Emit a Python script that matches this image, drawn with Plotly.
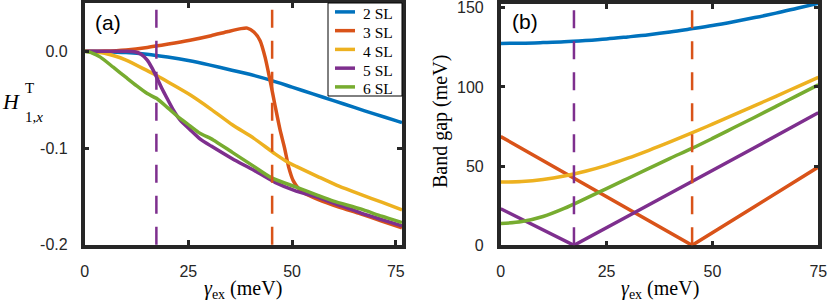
import plotly.graph_objects as go

# ---------------- data ----------------
series_names = ["2 SL", "3 SL", "4 SL", "5 SL", "6 SL"]
colors = ["#0072BD", "#D95319", "#EDB120", "#7E2F8E", "#77AC30"]

# panel (a): H^T_{1,x} vs gamma_ex
a_x_2 = [0, 5, 10, 15, 20, 25, 30, 35, 40, 45, 50, 55, 60, 65, 70, 75, 76.5]
a_y_2 = [0, -0.0003, -0.0012, -0.003, -0.0059, -0.0095, -0.014, -0.019, -0.024,
         -0.030, -0.037, -0.044, -0.051, -0.058, -0.065, -0.0716, -0.0738]
a_x_3 = [0, 4.8, 10.0, 15.1, 20.2, 25.4, 30.5, 34.6, 37.7, 39.2, 40.8, 42.3, 43.5,
         44.7, 45.9, 47.1, 48.2, 49.2, 50.3, 51.6, 53.1, 56.2, 61.3, 66.5, 71.6, 76.5]
a_y_3 = [0, 0.0003, 0.0015, 0.004, 0.0075, 0.0115, 0.0162, 0.0205, 0.0235, 0.024,
         0.020, 0.011, -0.006, -0.030, -0.056, -0.081, -0.100, -0.120, -0.134, -0.142,
         -0.147, -0.153, -0.161, -0.168, -0.1755, -0.1825]
a_x_4 = [0, 4.8, 10.0, 15.1, 17.4, 20.2, 25.4, 30.5, 35.6, 40.8, 45.9, 49.1, 51.0,
         56.2, 61.3, 66.5, 71.6, 76.5]
a_y_4 = [0, -0.002, -0.009, -0.020, -0.025, -0.032, -0.045, -0.060, -0.076, -0.090,
         -0.106, -0.1149, -0.119, -0.1295, -0.1395, -0.148, -0.156, -0.164]
a_x_5 = [0, 4.8, 10.0, 12.0, 13.6, 15.1, 16.1, 17.4, 18.7, 19.8, 21.3, 23.0, 25.4,
         27.8, 30.5, 35.6, 40.8, 45.9, 51.0, 56.2, 61.3, 66.5, 71.6, 76.5]
a_y_5 = [0, 0, 0, -0.0005, -0.003, -0.009, -0.016, -0.027, -0.039, -0.048, -0.060,
         -0.071, -0.081, -0.0905, -0.098, -0.111, -0.123, -0.1355, -0.1445, -0.151,
         -0.159, -0.167, -0.174, -0.1805]
a_x_6 = [0, 1.7, 3.8, 6.9, 10.0, 12.5, 15.1, 17.4, 20.2, 23.0, 25.4, 27.8, 31.0,
         35.6, 40.8, 45.1, 51.0, 56.2, 60.0, 66.5, 71.6, 76.5]
a_y_6 = [0, -0.0015, -0.006, -0.0164, -0.027, -0.0355, -0.0437, -0.0488, -0.059,
         -0.0694, -0.077, -0.0847, -0.0916, -0.1045, -0.119, -0.1309, -0.1405,
         -0.149, -0.1549, -0.163, -0.1705, -0.177]

# panel (b): band gap (meV) vs gamma_ex
b_x_2 = [0, 5, 10, 15, 20, 25, 30, 35, 40, 45, 50, 55, 60, 65, 70, 75]
b_y_2 = [127.5, 127.6, 128.0, 128.5, 129.3, 130.3, 131.6, 133.0, 134.7, 136.7,
         138.8, 141.2, 143.8, 146.6, 149.7, 152.8]
b_x_3 = [0, 20, 45.2, 60, 75]
b_y_3 = [68.7, 38.3, 0, 24.5, 49.4]
b_x_4 = [0, 5, 10, 15, 20, 25, 30, 35, 40, 45, 50, 55, 60, 65, 70, 75]
b_y_4 = [39.9, 40.3, 41.6, 43.8, 46.8, 50.5, 55.0, 60.0, 65.3, 70.8, 76.5, 82.3,
         88.2, 94.1, 100.1, 106.1]
b_x_5 = [0, 17.3, 30, 45.2, 60, 75]
b_y_5 = [23.1, 0, 18.3, 40.1, 61.8, 83.7]
b_x_6 = [0, 5, 10, 15, 20, 25, 30, 35, 40, 45, 50, 55, 60, 65, 70, 75]
b_y_6 = [13.7, 15.0, 18.2, 23.3, 29.5, 35.8, 42.2, 48.6, 54.9, 61.0, 67.5, 74.2,
         80.9, 87.7, 94.5, 101.3]

# critical exchange fields (dashed lines): 5 SL and 3 SL gap closings
crit_x = [17.3, 45.2]
crit_colors = ["#7E2F8E", "#D95319"]

a_xticks = [0, 25, 50, 75]
a_xticktext = ["0", "25", "50", "75"]
a_yticks = [-0.2, -0.1, 0.0]
a_yticktext = ["-0.2", "-0.1", "0.0"]
b_xticks = [0, 25, 50, 75]
b_xticktext = ["0", "25", "50", "75"]
b_yticks = [0, 50, 100, 150]
b_yticktext = ["0", "50", "100", "150"]

a_xrange = [0, 76.5]
a_yrange = [-0.2, 0.05]
b_xrange = [0, 75]
b_yrange = [0, 152.5]

# ---------------- figure ----------------
W, H = 830, 305
frame_col = "#262626"
sans = "Liberation Sans, Arial, sans-serif"
serif = "Liberation Serif, Times New Roman, serif"
LW = 3.5

fig = go.Figure()

a_x = [a_x_2, a_x_3, a_x_4, a_x_5, a_x_6]
a_y = [a_y_2, a_y_3, a_y_4, a_y_5, a_y_6]
b_x = [b_x_2, b_x_3, b_x_4, b_x_5, b_x_6]
b_y = [b_y_2, b_y_3, b_y_4, b_y_5, b_y_6]

for i, name in enumerate(series_names):
    fig.add_trace(go.Scatter(x=a_x[i], y=a_y[i], mode="lines", name=name, showlegend=False,
                             line=dict(color=colors[i], width=LW, shape="spline", smoothing=0.6),
                             xaxis="x", yaxis="y"))
for i, name in enumerate(series_names):
    shp = "linear" if i in (1, 3) else "spline"
    fig.add_trace(go.Scatter(x=b_x[i], y=b_y[i], mode="lines", name=name, showlegend=False,
                             line=dict(color=colors[i], width=LW, shape=shp),
                             xaxis="x2", yaxis="y2"))

def px2paper_x(p):
    return p / W

def px2paper_y(p):
    return 1 - p / H

a_dom_x = [px2paper_x(84.6), px2paper_x(402)]
a_dom_y = [px2paper_y(244.7), px2paper_y(3)]
b_dom_x = [px2paper_x(500.7), px2paper_x(818.3)]
b_dom_y = [px2paper_y(245.3), px2paper_y(3.8)]

common = dict(showline=True, linewidth=3.5, linecolor=frame_col, mirror="ticks",
              showgrid=False, zeroline=False, ticks="inside",
              ticklen=5, tickwidth=2.5, tickcolor=frame_col,
              automargin=False, ticklabeloverflow="allow",
              tickfont=dict(family=sans, size=16, color=frame_col), tickmode="array")

fig.update_layout(
    width=W, height=H, margin=dict(l=0, r=0, t=0, b=0, pad=0, autoexpand=False),
    paper_bgcolor="white", plot_bgcolor="white", showlegend=False,
    xaxis=dict(domain=a_dom_x, range=a_xrange, tickvals=a_xticks, ticktext=a_xticktext,
               anchor="y", ticklabelstandoff=9, **common),
    yaxis=dict(domain=a_dom_y, range=a_yrange, tickvals=a_yticks, ticktext=a_yticktext,
               anchor="x", ticklabelstandoff=10, **common),
    xaxis2=dict(domain=b_dom_x, range=b_xrange, tickvals=b_xticks, ticktext=b_xticktext,
                anchor="y2", ticklabelstandoff=9, **common),
    yaxis2=dict(domain=b_dom_y, range=b_yrange, tickvals=b_yticks, ticktext=b_yticktext,
                anchor="x2", ticklabelstandoff=10, **common),
)

shapes = []
for xr, yr in (("x", "y domain"), ("x2", "y2 domain")):
    for cx, cc in zip(crit_x, crit_colors):
        shapes.append(dict(type="line", xref=xr, yref=yr, x0=cx, x1=cx, y0=0, y1=1,
                           line=dict(color=cc, width=2.5, dash="18px,13px"), layer="above"))

# legend box (panel a, top-right corner)
leg_left, leg_right, leg_top, leg_bottom = 328, 402, 3, 96
leg_row0, leg_step = 11.9, 18.75
shapes.append(dict(type="rect", xref="paper", yref="paper",
                   x0=px2paper_x(leg_left), x1=px2paper_x(leg_right),
                   y0=px2paper_y(leg_bottom), y1=px2paper_y(leg_top),
                   line=dict(color="black", width=1), fillcolor="white", layer="above"))
for i, name in enumerate(series_names):
    yy = leg_row0 + i * leg_step
    shapes.append(dict(type="line", xref="paper", yref="paper",
                       x0=px2paper_x(335), x1=px2paper_x(355),
                       y0=px2paper_y(yy), y1=px2paper_y(yy),
                       line=dict(color=colors[i], width=LW), layer="above"))
fig.update_layout(shapes=shapes)

def label(text, x, y, size, family, **kw):
    d = dict(text=text, x=px2paper_x(x), y=px2paper_y(y), xref="paper", yref="paper",
             showarrow=False, xanchor="center", yanchor="middle",
             font=dict(family=family, size=size, color="black"))
    d.update(kw)
    return d

ann = [
    label("(a)", 108, 23, 21, sans),
    label("(b)", 524.5, 21, 21, sans),
    label("<i>γ</i><sub>ex</sub> (meV)", 243.3, 289, 20, serif),
    label("<i>γ</i><sub>ex</sub> (meV)", 659.5, 289, 20, serif),
    label("Band gap (meV)", 440, 122, 20, serif, textangle=-90),
    label("<i>H</i>", 11, 101, 22, serif),
    label("T", 22.7, 87.5, 15, serif, xanchor="left"),
    label("1,<i>x</i>", 22.7, 116.5, 15, serif, xanchor="left"),
]
for i, name in enumerate(series_names):
    ann.append(label(name, 360.5, leg_row0 + i * leg_step + 2.0, 15.5, serif, xanchor="left"))
fig.update_layout(annotations=ann)

fig.write_html("out.html", config={"displayModeBar": False},
               post_script="document.body.style.margin='0px';")
